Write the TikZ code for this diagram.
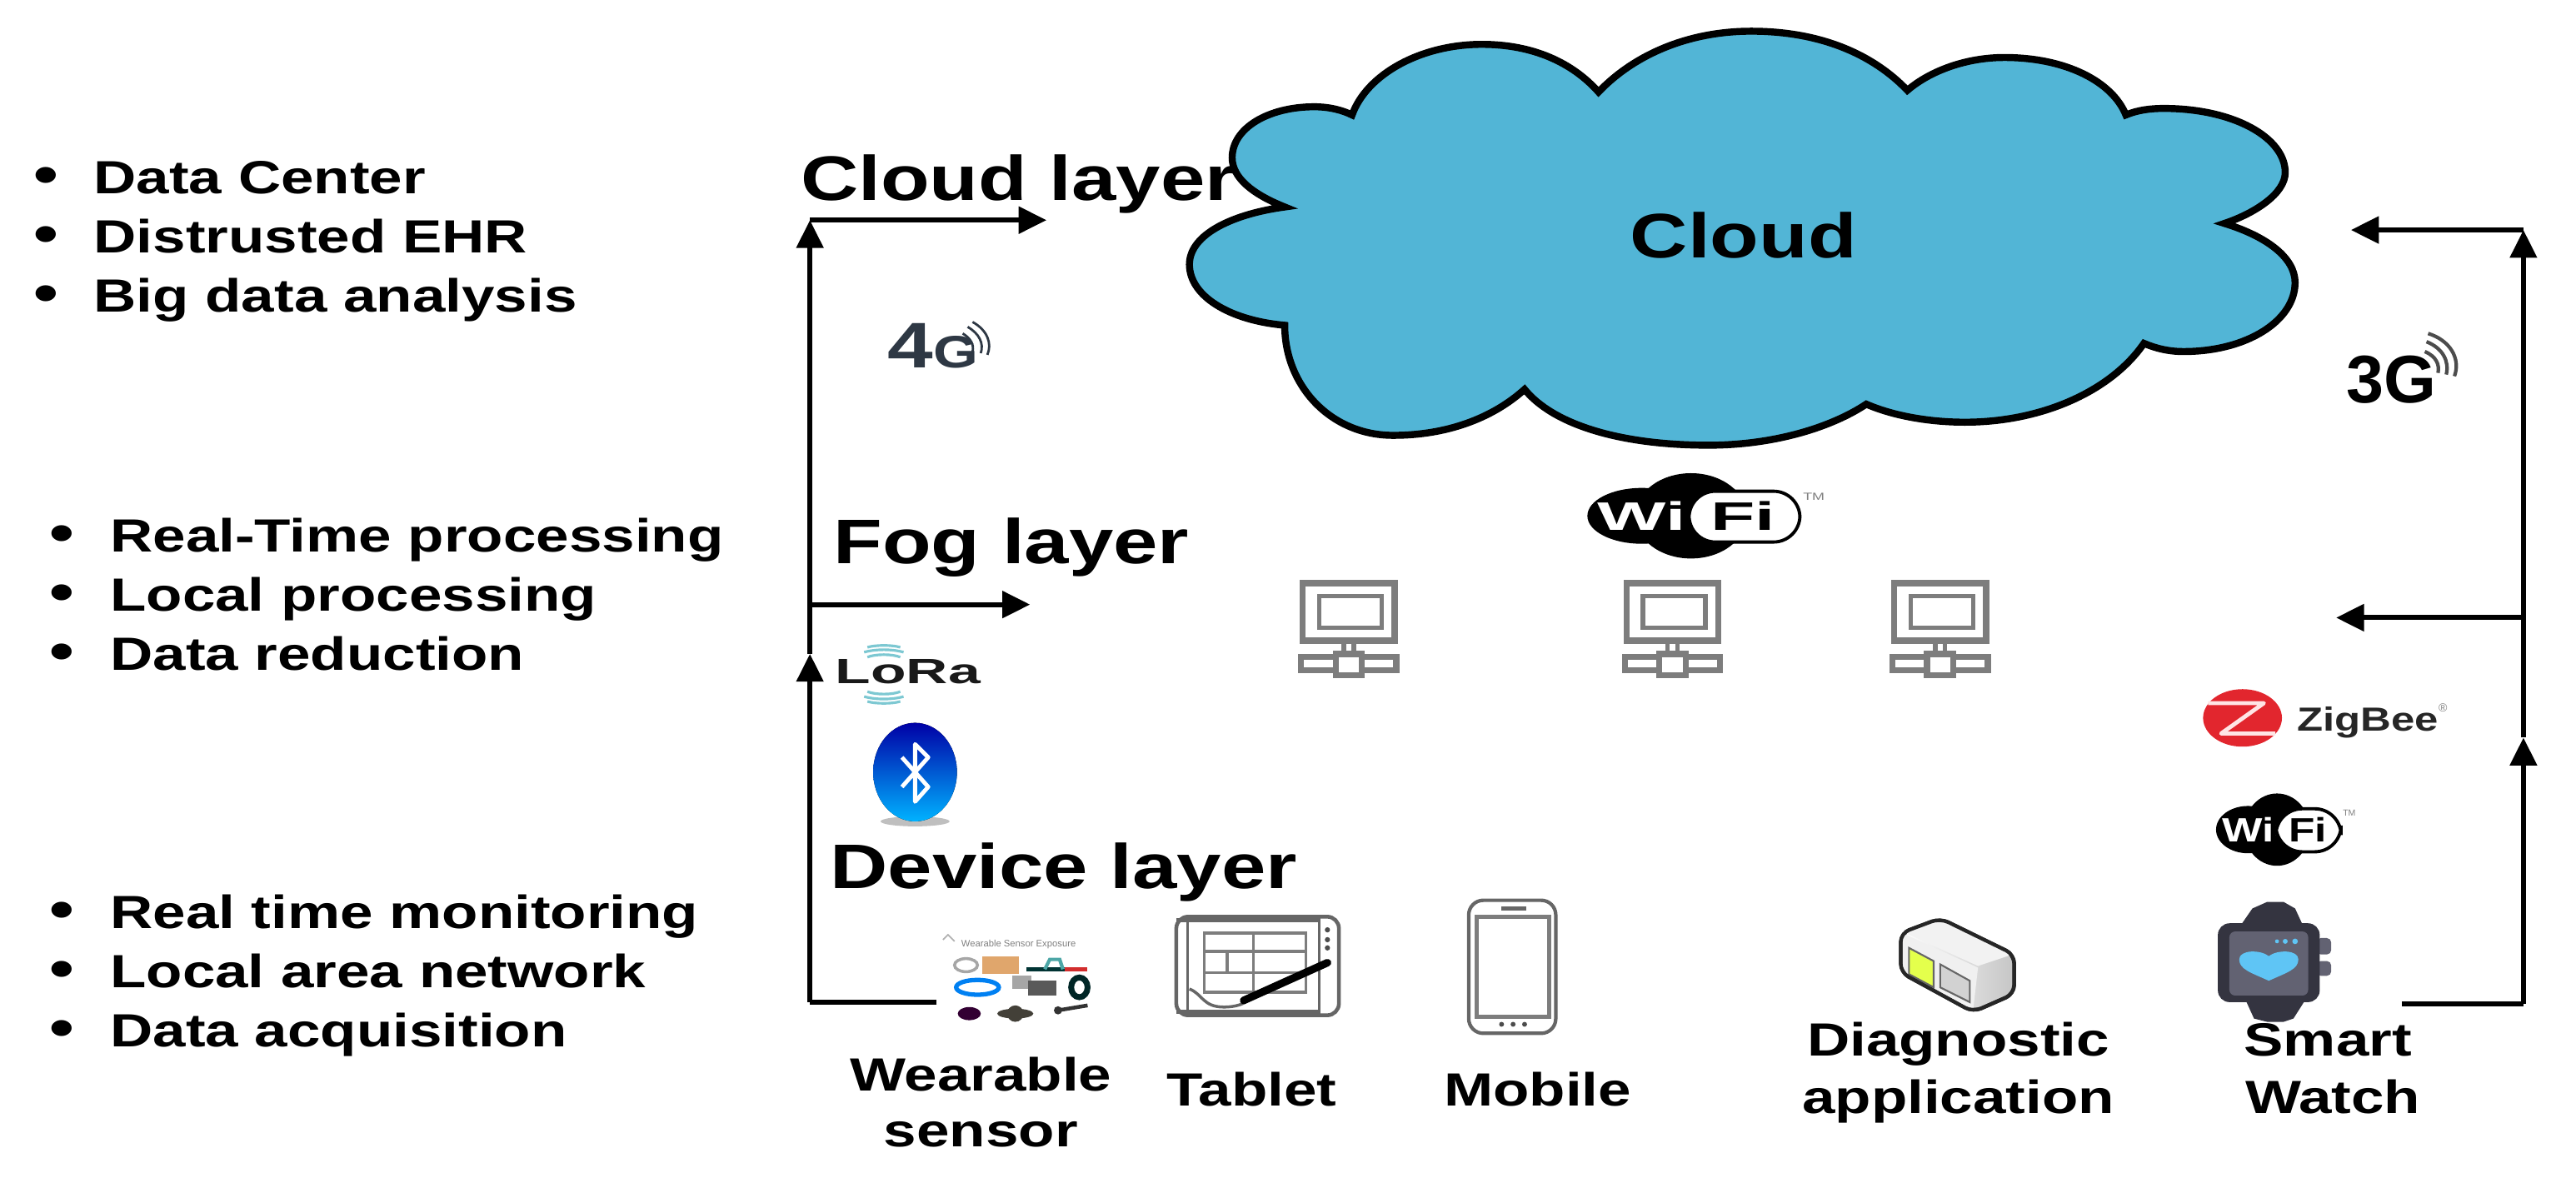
\documentclass[tikz,border=0pt]{standalone}
\usepackage{fontspec}
\usepackage{tikz}
\usetikzlibrary{arrows.meta}
\setmainfont[FakeStretch=1.27]{Liberation Sans}
\newfontfamily\plainsans{Liberation Sans}
\definecolor{cloudblue}{RGB}{82,181,214}
\definecolor{iconink}{RGB}{125,125,125}
\definecolor{fourgink}{RGB}{46,56,68}
\definecolor{lorawave}{RGB}{125,200,210}
\definecolor{zigred}{RGB}{226,38,46}
\definecolor{watchdark}{RGB}{52,52,64}
\definecolor{watchscreen}{RGB}{98,98,114}
\definecolor{watchheart}{RGB}{95,197,245}
\newcommand{\dotitem}[1]{\makebox[20.6pt][l]{\fontsize{19}{20}\selectfont\textbullet}#1}
\tikzset{listtext/.style={anchor=base west,inner sep=0pt,font=\fontsize{15.9}{18}\selectfont\bfseries},
	layertext/.style={anchor=base west,inner sep=0pt,font=\fontsize{21.5}{24}\selectfont\bfseries},
	devlabel/.style={anchor=base,inner sep=0pt,font=\fontsize{15.9}{18}\selectfont\bfseries},
	linkline/.style={draw,line width=1.7pt},
	linkarrow/.style={linkline,-{Triangle[length=9.5pt,width=9pt]}},
	pcline/.style={draw=iconink,line width=2.1pt},
	tabline/.style={draw=black!60,line width=1pt},
	wifilogo/.pic={
		\fill (-18.6,0) ellipse [x radius=19.5,y radius=14.4];
		\fill (-1,0) ellipse [x radius=20,y radius=22];
		\draw [fill=white,line width=1.1pt,rounded corners=9pt] (-1.7,-12.7) rectangle (38,13.5);
		\node [transform shape,text=white,inner sep=0pt,font=\fontsize{11.5}{13}\selectfont\bfseries] (wi) at (-18.6,0) {Wi};
		\node [transform shape,inner sep=0pt,font=\fontsize{11.5}{13}\selectfont\bfseries] (fi) at (17.7,0) {Fi};
		\node [transform shape,text=gray,inner sep=0pt,font=\plainsans\fontsize{3}{4}\selectfont] (tm) at (43,-10) {TM};
	},
	pcicon/.pic={
		\draw [pcline] (-28,-28) rectangle (28,7);
		\draw [pcline,line width=1.5pt] (-18,-20) rectangle (20,-1);
		\draw [pcline,line width=1.5pt] (-3,7) -- (-3,17) (3,7) -- (3,17);
		\draw [pcline] (-29,17) rectangle (29,25);
		\draw [pcline,fill=white] (-8,15) rectangle (8,28);
	}}

\begin{document}
\begin{tikzpicture}[x=0.01972cm,y=-0.01972cm]
\useasboundingbox (0,0) rectangle (1568,726);
% cloud
\draw [fill=cloudblue,line width=2.4pt] (782,126)
  .. controls (762,118) and (750,108) .. (750,96)
  .. controls (750,78) and (772,65) .. (800,65)
  .. controls (809,65) and (817,67) .. (823,70)
  .. controls (832,45) and (865,27) .. (902,27)
  .. controls (933,27) and (957,38) .. (973,56)
  .. controls (995,33) and (1028,19) .. (1066,19)
  .. controls (1108,19) and (1140,33) .. (1161,55)
  .. controls (1175,43) and (1197,35) .. (1220,35)
  .. controls (1258,35) and (1286,50) .. (1294,70)
  .. controls (1301,67) and (1309,66) .. (1317,66)
  .. controls (1360,66) and (1391,84) .. (1391,105)
  .. controls (1391,118) and (1372,130) .. (1354,136)
  .. controls (1380,144) and (1397,157) .. (1397,172)
  .. controls (1397,195) and (1368,214) .. (1329,214)
  .. controls (1320,214) and (1312,212) .. (1305,209)
  .. controls (1285,238) and (1243,257) .. (1196,257)
  .. controls (1174,257) and (1152,253) .. (1136,246)
  .. controls (1115,260) and (1080,271) .. (1040,271)
  .. controls (985,271) and (945,258) .. (928,237)
  .. controls (908,255) and (880,265) .. (848,265)
  .. controls (810,265) and (782,235) .. (782,198)
  .. controls (748,195) and (724,180) .. (724,161)
  .. controls (724,142) and (752,130) .. (782,126) -- cycle;
\node [layertext] (cloudname) at (992,157) {Cloud};
% left lists
\node [listtext] (itemA) at (20,118) {\dotitem{Data Center}};
\node [listtext] (itemB) at (20,154) {\dotitem{Distrusted EHR}};
\node [listtext] (itemC) at (20,190) {\dotitem{Big data analysis}};
\node [listtext] (itemD) at (30,336) {\dotitem{Real-Time processing}};
\node [listtext] (itemE) at (30,372) {\dotitem{Local processing}};
\node [listtext] (itemF) at (30,408) {\dotitem{Data reduction}};
\node [listtext] (itemG) at (30,565) {\dotitem{Real time monitoring}};
\node [listtext] (itemH) at (30,601) {\dotitem{Local area network}};
\node [listtext] (itemI) at (30,637) {\dotitem{Data acquisition}};
% layers
\node [layertext] (cloudlayer) at (487,122) {Cloud layer};
\node [layertext] (foglayer) at (507,343) {Fog layer};
\node [layertext] (devlayer) at (505,541) {Device layer};
% left links
\coordinate (devL) at (570,610);
\coordinate (cornerL) at (493,610);
\coordinate (midL) at (493,398);
\coordinate (fogL) at (493,368);
\coordinate (fogtipL) at (627,368);
\coordinate (topL) at (493,134);
\coordinate (cloudtipL) at (637,134);
\draw [linkline] (devL) -- (cornerL);
\draw [linkarrow] (cornerL) -- (midL);
\draw [linkarrow] (midL) -- (topL);
\draw [linkarrow] (topL) -- (cloudtipL);
\draw [linkarrow] (fogL) -- (fogtipL);
% right links
\coordinate (devR) at (1462,611);
\coordinate (cornerR) at (1536,611);
\coordinate (midR) at (1536,449);
\coordinate (fogR) at (1536,376);
\coordinate (fogtipR) at (1422,376);
\coordinate (topR) at (1536,140);
\coordinate (cloudtipR) at (1431,140);
\draw [linkline] (devR) -- (cornerR);
\draw [linkarrow] (cornerR) -- (midR);
\draw [linkarrow] (midR) -- (topR);
\draw [linkarrow] (topR) -- (cloudtipR);
\draw [linkarrow] (fogR) -- (fogtipR);
% 4G and 3G
\node [anchor=base west,inner sep=0pt,text=fourgink,font=\fontsize{22}{24}\selectfont\bfseries] (fourg) at (540,224) {4{\fontsize{15.5}{17}\selectfont G}};
\draw [fourgink,line width=.8pt] (586,203) .. controls (591,206) and (593,210) .. (592,214)
  (589,199) .. controls (596,203) and (599,209) .. (597,215)
  (592,196) .. controls (601,201) and (604,209) .. (601,216);
\node [anchor=base west,inner sep=0pt,font=\plainsans\fontsize{23}{26}\selectfont\bfseries] (threeg) at (1428,245) {3G};
\draw [line width=1.2pt,black!70] (1476,214) .. controls (1483,217) and (1485,222) .. (1484,227)
  (1477,208) .. controls (1487,212) and (1491,220) .. (1489,228)
  (1478,203) .. controls (1491,207) and (1498,218) .. (1494,229);
% fog layer
\pic (wifibig) at (1031,314) [xscale=1.7,yscale=1.18] {wifilogo};
\pic (pcA) at (821,383) {pcicon};
\pic (pcB) at (1018,383) {pcicon};
\pic (pcC) at (1181,383) {pcicon};
% LoRa
\node [anchor=base west,inner sep=0pt,xscale=1.3,transform shape,text=black!90,font=\fontsize{12}{14}\selectfont\bfseries] (lora) at (508,416) {LoRa};
\draw [lorawave,line width=.9pt] (528,400) .. controls (533,398) and (543,398) .. (548,400)
  (526,397) .. controls (533,395) and (543,395) .. (550,397)
  (528,394) .. controls (533,392.5) and (543,392.5) .. (548,394)
  (528,421) .. controls (533,423) and (543,423) .. (548,421)
  (526,424) .. controls (533,426) and (543,426) .. (550,424)
  (528,427) .. controls (533,428.5) and (543,428.5) .. (548,427);
% bluetooth
\fill [black!25] (557,500) ellipse [x radius=21,y radius=3];
\fill [top color=blue!65!black,bottom color=cyan!70!blue] (557,470) ellipse [x radius=25.5,y radius=30];
\draw [white,line width=1.4pt,line join=round] (549,461) -- (565,479) -- (557,488) -- (557,453) -- (565,461) -- (549,479);
% right logos
\fill [zigred] (1365,437) ellipse [x radius=24,y radius=17.5];
\draw [white!90!red,line width=1.4pt,line join=round] (1344,428) -- (1378,428) -- (1352,446.5) -- (1385,446.5);
\node [anchor=base west,inner sep=0pt,text=black!85,font=\fontsize{11.4}{13}\selectfont\bfseries] (zigbee) at (1398,445) {ZigBee};
\node [inner sep=0pt,text=gray,font=\plainsans\fontsize{4}{5}\selectfont] (zigmark) at (1487,431) {®};
\pic (wifismall) at (1387,505) {wifilogo};
% wearable sensor
\node [inner sep=0pt,text=gray,font=\plainsans\fontsize{3.2}{4}\selectfont] (weartitle) at (620,575) {Wearable Sensor Exposure};
\draw [gray!60,line width=.5pt] (574,572) -- (577,569) -- (581,573);
\draw [gray!70,line width=1pt] (588,587.5) ellipse [x radius=7,y radius=4];
\fill [brown!70!orange!70] (598,582) rectangle (620,593);
\draw [black!60!teal,line width=1.4pt] (625,590) -- (648,590);
\draw [red!65!gray,line width=1.4pt] (648,590) -- (662,590);
\draw [teal!70,line width=1.2pt] (636,590) -- (639,584) -- (645,584) -- (647,590);
\draw [black!10!blue!50!cyan,line width=1.5pt,fill=white] (595,601) ellipse [x radius=13,y radius=4.5];
\fill [gray!70] (616,594) rectangle (628,602);
\fill [black!65] (626,597) rectangle (643,606);
\draw [black!70!teal,line width=2pt] (657,601) ellipse [x radius=5,y radius=6];
\fill [black!60!violet] (590,617) ellipse [x radius=7,y radius=4];
\fill [black!85!yellow] (618,617) ellipse [x radius=11,y radius=3];
\fill [black!85!yellow] (618,617) ellipse [x radius=5,y radius=5];
\draw [black!80,line width=1.3pt] (644,615) -- (662,612);
\fill [black!80] (644,615) circle [radius=2.5];
% tablet
\draw [tabline,line width=1.3pt,rounded corners=4pt] (716,558) rectangle (815,618);
\draw [tabline] (723,558) -- (723,618) (803,558) -- (803,618);
\draw [tabline,line width=1.3pt] (716,560) -- (803,560) (716,616) -- (803,616);
\draw [tabline,draw=iconink] (733,568) rectangle (795,604);
\draw [tabline,draw=iconink] (733,579) -- (795,579) (733,592) -- (795,592) (763,568) -- (763,604) (747,579) -- (747,592);
\fill [black!70] (808,566) circle [radius=1.6] (808,572) circle [radius=1.6] (808,577) circle [radius=1.6];
\draw [tabline,fill=none] (724,602) .. controls (732,605) and (732,613) .. (745,613) .. controls (750,613) and (755,612) .. (758,610);
\draw [line width=2.6pt,line cap=round] (757,609) -- (808,586);
% mobile
\draw [tabline,rounded corners=5pt,line width=1.2pt] (894,548) rectangle (947,629);
\draw [tabline,draw=iconink,line width=1.4pt] (899,558) rectangle (943,619);
\draw [tabline,line width=1.2pt] (914,553) -- (929,553);
\fill [black!70] (914,623.5) circle [radius=1.5] (921,623.5) circle [radius=1.5] (928,623.5) circle [radius=1.5];
% diagnostic device
\draw [black!85,left color=white,right color=gray!45,line width=1.3pt,line join=round,rounded corners=3pt] (1157,568) -- (1181,559) -- (1226,581) -- (1226,605) -- (1201,616) -- (1157,592) -- cycle;
\fill [white!94!black] (1158,568) -- (1204,589) -- (1201,615) -- (1158,591) -- cycle;
\fill [white!90!gray] (1158,567) -- (1181,560) -- (1225,581) -- (1204,588) -- cycle;
\draw [black!60,fill=lime!60!yellow!70!white,line width=.6pt] (1162,577) -- (1177,585) -- (1177,601) -- (1162,593) -- cycle;
\draw [black!60,fill=gray!35,line width=.6pt] (1181,587) -- (1199,597) -- (1199,610) -- (1181,601) -- cycle;
\draw [black!85,line width=1.2pt,line join=round,rounded corners=3pt] (1157,568) -- (1181,559) -- (1226,581) -- (1226,605) -- (1201,616) -- (1157,592) -- cycle;
% watch
\fill [watchdark] (1362,566) -- (1371,553) -- (1380,549) -- (1390,549) -- (1397,553) -- (1403,566) -- cycle;
\fill [watchdark] (1367,609) -- (1372,620) -- (1380,622) -- (1390,622) -- (1396,620) -- (1403,609) -- cycle;
\fill [watchscreen,rounded corners=1.5pt] (1410,571) rectangle (1419,581) (1410,585) rectangle (1419,594);
\fill [watchdark,rounded corners=4pt] (1350,562) rectangle (1412,610);
\fill [watchscreen,rounded corners=2pt] (1357,567) rectangle (1405,606);
\fill [watchheart] (1381,597) .. controls (1370,592) and (1363,590) .. (1363,584)
  .. controls (1363,578) and (1376,578) .. (1381,582)
  .. controls (1386,578) and (1399,578) .. (1399,584)
  .. controls (1399,590) and (1392,592) .. (1381,597) -- cycle;
\fill [watchheart] (1386,573) circle [radius=1.2] (1391,573) circle [radius=1.5] (1397,573) circle [radius=1.7];
% device labels
\node [devlabel] (wearA) at (597,664) {Wearable};
\node [devlabel] (wearB) at (597,698) {sensor};
\node [devlabel] (tablet) at (762,673) {Tablet};
\node [devlabel] (mobile) at (936,673) {Mobile};
\node [devlabel] (diagA) at (1192,643) {Diagnostic};
\node [devlabel] (diagB) at (1192,678) {application};
\node [devlabel] (smartA) at (1417,643) {Smart};
\node [devlabel] (smartB) at (1420,678) {Watch};
\end{tikzpicture}
\end{document}
